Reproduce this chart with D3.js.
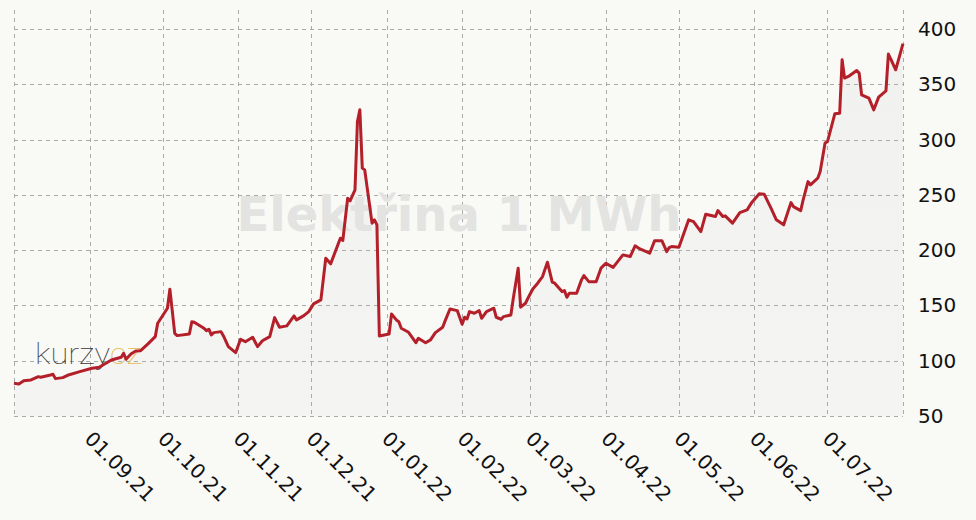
<!DOCTYPE html>
<html>
<head>
<meta charset="utf-8">
<script src="https://cdn.jsdelivr.net/npm/d3@7"></script>
<style>
  body { margin: 0; background: #f9f9f6; }
  svg { display: block; }
</style>
</head>
<body>
<div id="chart"></div>
<script>
// days since 01.08.2021
var days = [0,2,4,7,10,11,15,16,17,20,22,27,32,35,37,40,44,45,46,48,
  50,52,55,58,59,63,64,66,67,72,73,74,78,79,80,81,82,85,86,88,
  91,93,95,98,100,102,105,107,109,112,115,116,119,121,123,126,128,130,134,135,
  137,138,140,141,142,143,144,147,148,149,150,154,155,157,158,159,162,165,166,169,
  171,173,176,177,179,182,184,185,186,187,189,191,192,194,197,198,200,201,204,205,
  207,208,210,211,213,215,217,219,221,222,225,226,227,228,231,233,234,236,239,241,
  243,246,250,253,255,257,261,263,266,268,269,270,273,277,279,282,284,288,289,291,
  292,295,298,301,303,306,308,309,311,313,316,319,320,323,324,326,327,330,331,333,
  334,337,339,340,341,343,346,347,348,351,353,355,358,359,360,362,365];

// cena elektřiny (EUR / MWh)
var prices = [79.6,79.0,81.9,82.6,85.6,85.0,87.1,87.7,83.8,84.7,
  86.8,90.1,93.2,94.1,96.8,100.7,103.1,106.7,101.3,106.1,
  108.8,109.1,115.2,121.8,133.9,147.5,164.7,124.8,122.7,124.2,
  135.3,134.8,129.4,127.2,128.5,123.3,125.4,126.3,122.4,112.7,
  107.3,119.4,117.2,121.2,112.7,118.1,121.8,139.0,130.3,131.5,
  140.5,136.9,140.8,144.4,151.4,155.0,192.7,187.6,210.8,208.7,
  247.0,244.6,254.5,316.3,326.9,274.2,272.6,224.4,227.4,222.9,
  122.4,124.2,142.3,136.9,135.3,129.4,125.7,116.3,120.3,116.3,
  118.8,125.4,130.3,136.0,146.8,145.3,133.0,139.3,137.8,144.4,
  142.9,145.3,138.4,144.4,147.5,139.3,137.5,139.9,141.4,156.5,
  183.7,148.4,152.0,156.5,164.9,170.1,176.1,189.1,171.0,170.1,
  162.5,163.4,157.4,161.0,161.0,173.1,177.0,171.5,171.5,183.7,
  188.2,184.4,195.7,194.2,203.9,201.1,197.2,208.4,208.6,198.7,
  202.3,203.2,202.7,227.4,225.8,216.8,232.5,230.4,235.8,230.4,
  231.0,224.4,234.0,236.4,243.4,250.9,250.6,246.1,237.1,227.4,
  222.9,243.0,239.4,235.8,245.5,262.0,259.1,265.1,271.1,296.8,
  298.2,323.3,323.9,372.2,355.6,357.7,362.5,360.1,340.5,337.5,
  326.9,338.4,344.1,377.3,372.8,363.1,386.7];

var yTicks = [50,100,150,200,250,300,350,400];
var title = "Elektřina 1 MWh";

var width = 976, height = 520;
var start = new Date(2021, 7, 1), end = new Date(2022, 7, 1);

var data = days.map(function(d, i) {
  return { date: d3.timeDay.offset(start, d), value: prices[i] };
});

var x = d3.scaleTime().domain([start, end]).range([14, 903]);
var y = d3.scaleLinear().domain([50, 400]).range([416, 29]);
var plotTop = 10;

var svg = d3.select("#chart")
  .append("svg")
  .attr("width", width)
  .attr("height", height);

svg.append("rect")
  .attr("width", width)
  .attr("height", height)
  .style("fill", "#f9f9f6");

var grad = svg.append("defs").append("linearGradient")
  .attr("id", "areaGrad")
  .attr("x1", 0).attr("y1", 0).attr("x2", 0).attr("y2", 1);
grad.append("stop").attr("offset", "0%").style("stop-color", "#f1f1f0");
grad.append("stop").attr("offset", "100%").style("stop-color", "#f4f4f3");

var area = d3.area()
  .x(function(d) { return x(d.date); })
  .y0(y(50))
  .y1(function(d) { return y(d.value); });

svg.append("path")
  .datum(data)
  .attr("d", area)
  .style("fill", "url(#areaGrad)");

// mřížka
var months = d3.timeMonth.range(start, d3.timeDay.offset(end, 1));

svg.append("g")
  .selectAll("line")
  .data(months)
  .enter().append("line")
  .attr("x1", function(d) { return Math.round(x(d)) + 0.5; })
  .attr("x2", function(d) { return Math.round(x(d)) + 0.5; })
  .attr("y1", plotTop)
  .attr("y2", y(50))
  .style("stroke", "#aaaaaa")
  .style("stroke-dasharray", "4,4");

svg.append("g")
  .selectAll("line")
  .data(yTicks)
  .enter().append("line")
  .attr("x1", x(start))
  .attr("x2", x(end))
  .attr("y1", function(d) { return Math.round(y(d)) + 0.5; })
  .attr("y2", function(d) { return Math.round(y(d)) + 0.5; })
  .style("stroke", "#aaaaaa")
  .style("stroke-dasharray", "4,4");

// vodoznak
svg.append("text")
  .attr("x", 459)
  .attr("y", 231)
  .style("font-family", "DejaVu Sans")
  .style("font-weight", "bold")
  .style("font-size", "48px")
  .style("text-anchor", "middle")
  .style("fill", "#e3e3e2")
  .text(title);

// logo
var logo = svg.append("text")
  .attr("x", 35)
  .attr("y", 364)
  .attr("textLength", 107)
  .attr("lengthAdjust", "spacingAndGlyphs")
  .style("font-family", "Roboto, 'DejaVu Sans'")
  .style("font-weight", "100")
  .style("font-size", "29px");
logo.append("tspan").style("fill", "#3a3a3a").text("kurzy");
logo.append("tspan").style("fill", "#e7b94c").text("cz");

var line = d3.line()
  .x(function(d) { return x(d.date); })
  .y(function(d) { return y(d.value); });

svg.append("path")
  .datum(data)
  .attr("d", line)
  .style("fill", "none")
  .style("stroke", "#b3202a")
  .style("stroke-width", 3)
  .style("stroke-linejoin", "round");

// osa Y
svg.append("g")
  .selectAll("text")
  .data(yTicks)
  .enter().append("text")
  .attr("x", 918)
  .attr("y", function(d) { return y(d); })
  .attr("dy", "0.35em")
  .style("font-family", "DejaVu Sans")
  .style("font-size", "20px")
  .style("fill", "#111111")
  .text(function(d) { return d; });

// osa X
var fmt = d3.timeFormat("%d.%m.%y");
svg.append("g")
  .selectAll("text")
  .data(months.slice(1, months.length - 1))
  .enter().append("text")
  .attr("transform", function(d) { return "translate(" + (x(d) + 4) + ",430) rotate(45)"; })
  .attr("dy", "0.7em")
  .style("font-family", "DejaVu Sans")
  .style("font-size", "20px")
  .style("fill", "#111111")
  .text(function(d) { return fmt(d); });
</script>
</body>
</html>
